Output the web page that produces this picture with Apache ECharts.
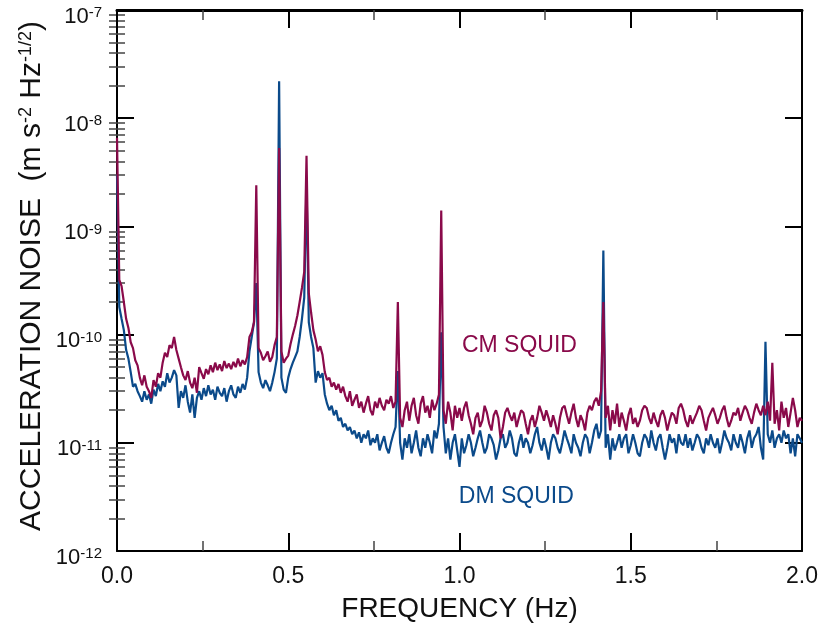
<!DOCTYPE html>
<html>
<head>
<meta charset="utf-8">
<script src="https://cdn.jsdelivr.net/npm/echarts@6/dist/echarts.min.js"></script>
<style>
html,body{margin:0;padding:0;background:#fff;}
#chart{width:822px;height:630px;}
</style>
</head>
<body>
<div id="chart"></div>
<script>
// ---- data ----
const FREQ_STEP = 2 / 300;         // Hz, spectral bin spacing (301 bins, 0..2 Hz)
const UNIT = 1e-12;                // values below are in units of 1e-12 m s^-2 Hz^-1/2
const X_TICKS = [0, 0.5, 1.0, 1.5, 2.0];
const Y_DECADES = [-12, -11, -10, -9, -8, -7];
const MINOR_MULT = [2, 3, 4, 5, 6, 7, 8, 9];

const CM_NOISE = [
 6600, 320, 280, 200, 140, 115, 85, 75, 58, 52,
 40, 34, 42, 33, 30, 26, 38, 33, 44, 40,
 55, 68, 62, 80, 75, 95, 72, 60, 50, 42,
 38, 46, 36, 32, 40, 29, 50, 44, 39, 48,
 43, 52, 45, 55, 47, 53, 46, 57, 49, 54,
 48, 56, 50, 60, 51, 58, 53, 62, 95, 105,
 130, 2400, 75, 68, 58, 63, 70, 56, 62, 80,
 95, 5300, 70, 55, 60, 64, 82, 100, 120, 150,
 200, 270, 380, 4500, 240, 160, 110, 90, 70, 78,
 65, 45, 38, 40, 33, 36, 31, 35, 29, 33,
 27, 24, 30, 22, 25, 28, 21, 24, 19, 23,
 27, 20, 18, 24, 21, 26, 22, 20, 25, 23,
 27, 21, 24, 200, 17, 14, 20, 24, 16, 22,
 26, 18, 15, 23, 27, 19, 22, 17, 25, 20,
 23, 28, 1400, 20, 15, 24, 19, 13, 22, 17,
 21, 16, 21, 24, 18, 15, 12, 17, 19, 14,
 16, 22, 19, 15, 13, 18, 20, 17, 11, 14,
 19, 21, 18, 16, 19, 14, 17, 20, 19, 15,
 12, 16, 18, 14, 17, 22, 19, 16, 20, 17,
 14, 18, 15, 12, 17, 21, 22, 18, 15, 19,
 23, 17, 14, 18, 16, 13, 19, 22, 20, 24,
 26, 22, 30, 200, 17, 22, 13, 20, 15, 23,
 14, 19, 16, 13, 18, 21, 15, 17, 14, 16,
 20, 22, 21, 17, 15, 19, 16, 14, 18, 20,
 17, 13, 16, 19, 18, 15, 21, 23, 20, 16,
 14, 18, 15, 17, 19, 22, 20, 16, 13, 17,
 19, 21, 18, 15, 17, 20, 22, 17, 14, 16,
 19, 18, 21, 16, 19, 22, 20, 17, 15, 19,
 23, 20, 18, 22, 18, 24, 16, 55, 15, 20,
 13, 24, 17, 21, 14, 19, 26, 20, 14, 17,
 16
];

const DM_NOISE = [
 3000, 180, 140, 110, 72, 60, 45, 33, 35, 30,
 27, 24, 30, 25, 28, 23, 31, 27, 35, 30,
 37, 33, 44, 36, 40, 47, 42, 21, 30, 26,
 34, 24, 19, 28, 17, 26, 30, 25, 32, 27,
 34, 28, 31, 25, 33, 29, 27, 32, 24, 30,
 34, 28, 26, 33, 29, 35, 31, 40, 70, 95,
 130, 300, 45, 36, 32, 38, 34, 30, 36, 45,
 60, 22000, 40, 31, 29, 40, 48, 55, 62, 70,
 95, 140, 220, 2500, 130, 95, 75, 36, 46, 40,
 44, 28, 23, 20, 22, 18, 20, 16, 17, 14,
 15, 13, 14, 12, 13, 11, 12.5, 10, 12, 11,
 13, 9.5, 11, 10, 12, 8.5, 10, 11.5, 9, 8,
 10, 12, 14, 46, 10, 7, 11, 9, 12, 8,
 10, 13, 9, 7.5, 11, 9, 12, 10, 8, 13,
 11, 15, 105, 14, 8, 11, 7, 10, 12, 8.5,
 6, 11, 8, 9.5, 12, 10, 7.5, 9, 11, 13,
 10, 8, 9, 12, 11, 9.5, 7, 8.5, 11, 12,
 9, 10, 13, 11, 8, 7.5, 10, 12, 9, 11,
 10, 8, 9.5, 12, 14, 10, 8.5, 11, 9, 7,
 10, 12, 11, 9, 8, 10, 13, 11, 9.5, 8,
 12, 10, 9, 7.5, 10, 12, 11, 8, 10, 13,
 15, 11, 13, 600, 9, 12, 7, 11, 8.5, 10,
 12, 9, 11, 12, 8, 9.5, 12, 10, 8, 7.5,
 10, 12, 11, 9, 13, 10, 8.5, 11, 12, 9,
 7, 9, 12, 10, 11, 8, 12, 10, 9.5, 12,
 9, 11, 8.5, 10, 12, 11, 9, 8, 11, 9.5,
 12, 10, 9, 11, 8, 10, 13, 11, 10, 8.5,
 12, 10, 9, 12, 10, 8, 11, 13, 9, 11,
 12, 14, 9, 7, 86, 12, 10, 13, 9, 11,
 12, 10, 13, 11, 12, 8, 11, 7.5, 12, 11,
 10
];

const SERIES_NAMES = ['CM SQUID', 'DM SQUID'];

// ---- build ----
const FONT = '"Liberation Sans", Arial, Helvetica, sans-serif';
const CM_COLOR = '#8A0A4A';
const DM_COLOR = '#0B4A8A';
const INK = '#111';

function pairs(arr) {
  return arr.map((v, i) => [+(i * FREQ_STEP).toFixed(5), v * UNIT]);
}
const minorLog = [];
Y_DECADES.slice(0, -1).forEach(d => MINOR_MULT.forEach(m => minorLog.push(d + Math.log10(m))));

const chart = echarts.init(document.getElementById('chart'), null, {renderer: 'canvas'});

const grid = {left: 117, right: 20, top: 10, bottom: 79};

function xAxisBase(pos) {
  return {
    type: 'value', min: 0, max: 2, interval: 0.5, position: pos,
    axisLine: {show: true, onZero: false, lineStyle: {color: '#000', width: pos === 'top' ? 3 : 2}},
    axisTick: {show: true, inside: true, length: 18, lineStyle: {color: '#000', width: 2}},
    minorTick: {show: true, splitNumber: 2, length: 10, lineStyle: {color: '#444', width: 1.5}},
    splitLine: {show: false}, minorSplitLine: {show: false}
  };
}
function yMinor(pos) {
  return {
    type: 'value', min: -12, max: -7, interval: 1, position: pos,
    axisLine: {show: false},
    axisTick: {show: true, inside: true, length: 8, customValues: minorLog, lineStyle: {color: '#444', width: 1.5}},
    axisLabel: {show: false}, splitLine: {show: false}
  };
}
function yMajor(pos) {
  return {
    type: 'log', logBase: 10, min: 1e-12, max: 1e-7, position: pos,
    axisLine: {show: true, onZero: false, lineStyle: {color: '#000', width: 2}},
    axisTick: {show: true, inside: true, length: 17, lineStyle: {color: '#000', width: 2}},
    splitLine: {show: false}
  };
}

const xBottom = Object.assign(xAxisBase('bottom'), {
  axisLabel: {show: true, margin: 14, color: INK, fontFamily: FONT, fontSize: 23,
    formatter: v => X_TICKS.indexOf(v) >= 0 ? v.toFixed(1) : ''},
  name: 'FREQUENCY (Hz)', nameLocation: 'middle', nameGap: 44,
  nameTextStyle: {color: INK, fontFamily: FONT, fontSize: 28}
});
const xTop = Object.assign(xAxisBase('top'), {axisLabel: {show: false}});

const yLeft = Object.assign(yMajor('left'), {
  axisLabel: {
    show: true, margin: 15, padding: [13, 0, 0, 0],
    formatter: v => '{b|10}{s|' + Math.round(Math.log10(v)) + '}',
    rich: {
      b: {fontSize: 22, fontFamily: FONT, color: INK, lineHeight: 22, verticalAlign: 'bottom'},
      s: {fontSize: 15, fontFamily: FONT, color: INK, lineHeight: 15, verticalAlign: 'top', padding: [0, 0, 10, 0]}
    }
  }
});
const yRight = Object.assign(yMajor('right'), {axisLabel: {show: false}});

chart.setOption({
  animation: false,
  backgroundColor: '#fff',
  grid: grid,
  xAxis: [xBottom, xTop],
  yAxis: [yLeft, yMinor('left'), yRight, yMinor('right')],
  series: [
    {name: SERIES_NAMES[1], type: 'line', xAxisIndex: 0, yAxisIndex: 0, data: pairs(DM_NOISE),
     showSymbol: false, lineStyle: {color: DM_COLOR, width: 2.2}, itemStyle: {color: DM_COLOR}, z: 3},
    {name: SERIES_NAMES[0], type: 'line', xAxisIndex: 0, yAxisIndex: 0, data: pairs(CM_NOISE),
     showSymbol: false, lineStyle: {color: CM_COLOR, width: 2.2}, itemStyle: {color: CM_COLOR}, z: 4}
  ]
});

// annotation labels anchored in data space
const cmPos = chart.convertToPixel({xAxisIndex: 0, yAxisIndex: 0}, [1.007, 7.9e-11]);
const dmPos = chart.convertToPixel({xAxisIndex: 0, yAxisIndex: 0}, [0.998, 3.15e-12]);

chart.setOption({
  graphic: [
    {type: 'text', x: cmPos[0], y: cmPos[1], z: 10,
     style: {text: SERIES_NAMES[0], fill: CM_COLOR, font: '23px ' + FONT, align: 'left', verticalAlign: 'middle'}},
    {type: 'text', x: dmPos[0], y: dmPos[1], z: 10,
     style: {text: SERIES_NAMES[1], fill: DM_COLOR, font: '23px ' + FONT, align: 'left', verticalAlign: 'middle'}},
    {type: 'text', x: 32, y: 276, rotation: Math.PI / 2, z: 10,
     style: {
       text: '{t|ACCELERATION NOISE  (m s}{s|-2}{t| Hz}{s|-1/2}{t|)}',
       align: 'center', verticalAlign: 'middle',
       rich: {
         t: {fontSize: 30, fontFamily: FONT, fill: INK, lineHeight: 30, verticalAlign: 'bottom'},
         s: {fontSize: 18, fontFamily: FONT, fill: INK, lineHeight: 18, verticalAlign: 'top', padding: [0, 0, 10, 0]}
       }
     }}
  ]
});
</script>
</body>
</html>
